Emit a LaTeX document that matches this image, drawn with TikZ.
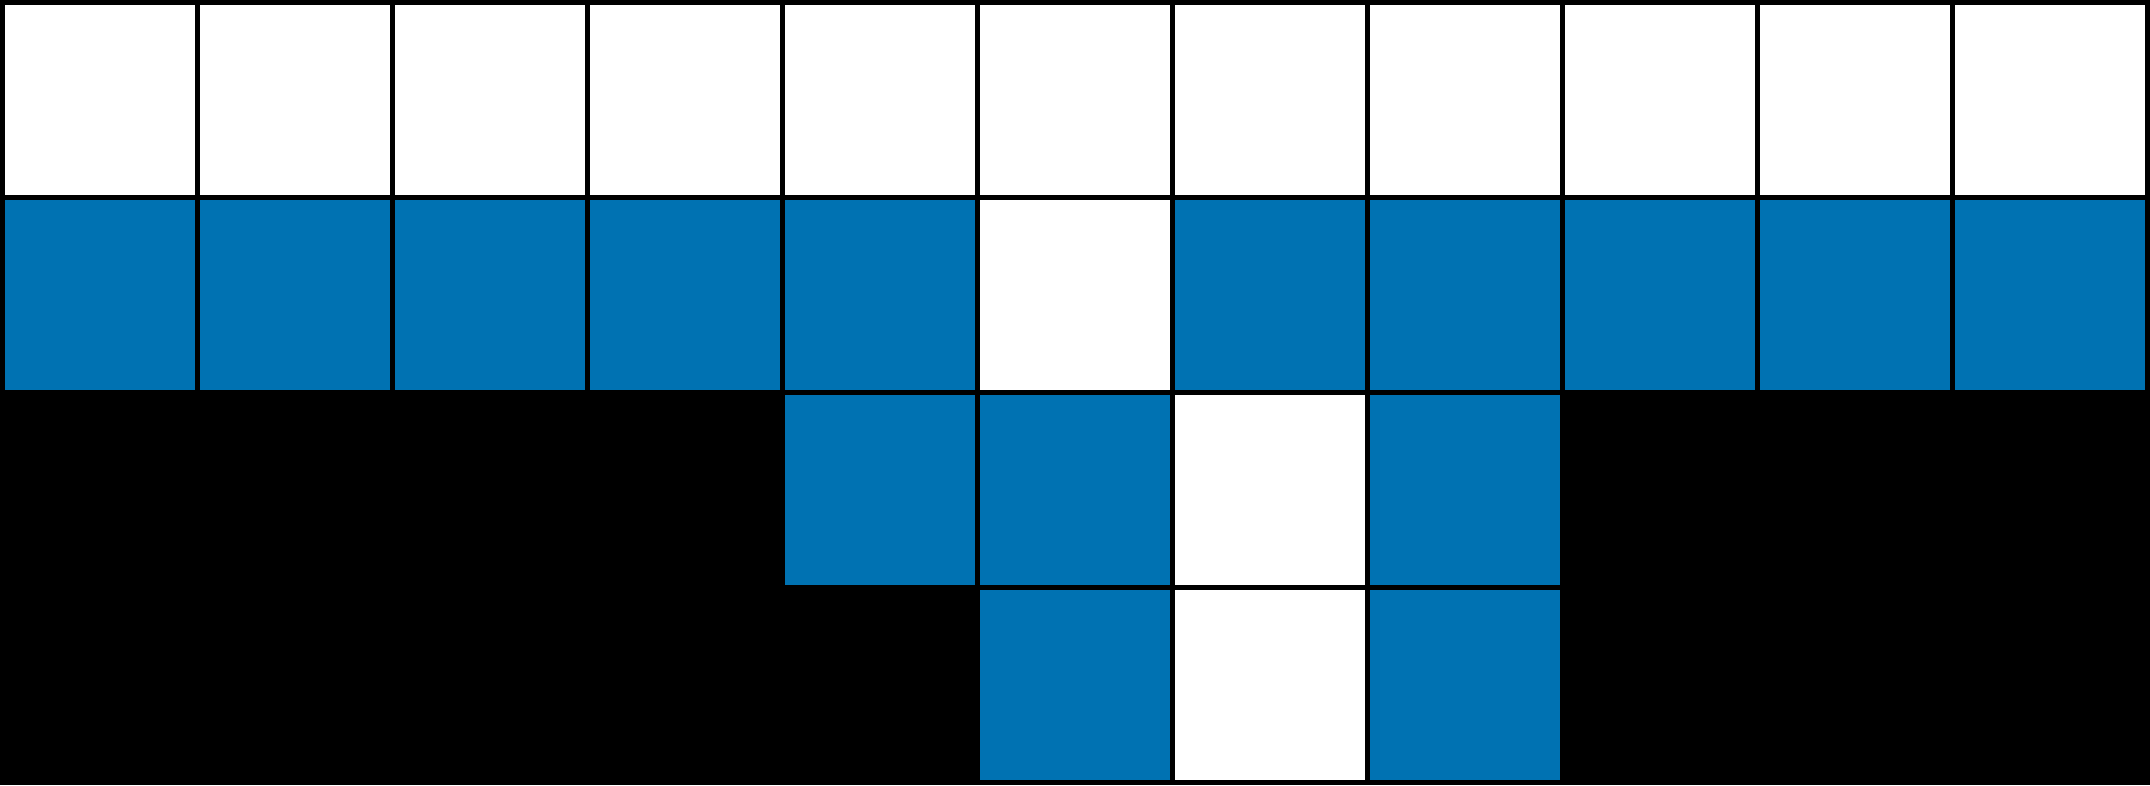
\documentclass[tikz,border=0pt]{standalone}
\usepackage{tikz, xcolor}
\definecolor{cellblue}{HTML}{0072B2}

\begin{document}
\begin{tikzpicture}[cell/.style={draw=black, line width=.8pt}]
    \fill [black] (-.014, -.014) rectangle (11.014, 4.014);
    \useasboundingbox (-.014, -.014) rectangle (11.014, 4.014);

    \foreach \x in {0, ..., 10}
    {
      \draw [cell, fill=white] (\x, 3) rectangle ++(1, 1);
    }
    \foreach \x/\c in {0/cellblue, 1/cellblue, 2/cellblue, 3/cellblue, 4/cellblue, 5/white,
                       6/cellblue, 7/cellblue, 8/cellblue, 9/cellblue, 10/cellblue}
    {
      \draw [cell, fill=\c] (\x, 2) rectangle ++(1, 1);
    }
    \foreach \x/\c in {4/cellblue, 5/cellblue, 6/white, 7/cellblue}
    {
      \draw [cell, fill=\c] (\x, 1) rectangle ++(1, 1);
    }
    \foreach \x/\c in {5/cellblue, 6/white, 7/cellblue}
    {
      \draw [cell, fill=\c] (\x, 0) rectangle ++(1, 1);
    }

  \end{tikzpicture}
\end{document}
